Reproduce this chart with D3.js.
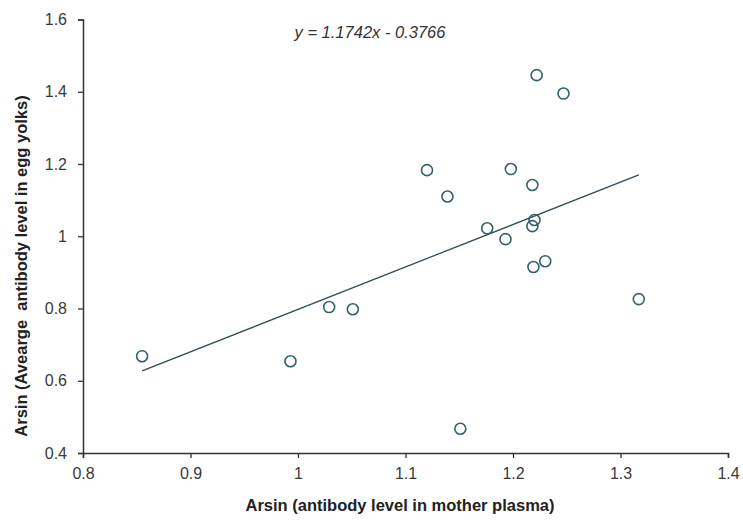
<!DOCTYPE html>
<html>
<head>
<meta charset="utf-8">
<script src="https://cdn.jsdelivr.net/npm/d3@7"></script>
<style>
  body { margin: 0; background: #fff; }
  text { font-family: "Liberation Sans", Arial, sans-serif; }
</style>
</head>
<body>
<div id="chart"></div>
<script>
// Data
const plasma = [0.855, 0.993, 1.029, 1.051, 1.151, 1.120, 1.139, 1.176, 1.193, 1.198, 1.218, 1.220, 1.218, 1.219, 1.230, 1.222, 1.247, 1.317];
const yolk   = [0.668, 0.654, 0.804, 0.798, 0.467, 1.183, 1.110, 1.022, 0.992, 1.186, 1.142, 1.045, 1.028, 0.915, 0.931, 1.446, 1.395, 0.826];
const slope = 1.1742;
const intercept = -0.3766;
const xTicks = [0.8, 0.9, 1.0, 1.1, 1.2, 1.3, 1.4];
const yTicks = [0.4, 0.6, 0.8, 1.0, 1.2, 1.4, 1.6];

const width = 743, height = 524;
const margin = { left: 83, right: 15, top: 19.5, bottom: 71 };

const svg = d3.select('#chart')
  .append('svg')
  .attr('width', width)
  .attr('height', height);

const x = d3.scaleLinear().domain([0.8, 1.4]).range([margin.left, width - margin.right]);
const y = d3.scaleLinear().domain([0.4, 1.6]).range([height - margin.bottom, margin.top]);

const fmt = d => (d === 1 ? '1' : d3.format('.1f')(d));

// Axes
const xAxis = svg.append('g')
  .attr('transform', `translate(0,${y(0.4)})`)
  .call(d3.axisBottom(x).tickValues(xTicks).tickFormat(fmt).tickSizeOuter(0).tickSize(5));

const yAxis = svg.append('g')
  .attr('transform', `translate(${x(0.8)},0)`)
  .call(d3.axisLeft(y).tickValues(yTicks).tickFormat(fmt).tickSizeOuter(0).tickSize(5));

[xAxis, yAxis].forEach(a => {
  a.select('.domain').attr('stroke', '#333').attr('stroke-width', 1.5);
  a.selectAll('.tick line').attr('stroke', '#333').attr('stroke-width', 1.3);
  a.selectAll('.tick text')
    .attr('font-size', '16px')
    .attr('fill', '#3a3a3a')
    .attr('font-family', '"Liberation Sans", Arial, sans-serif');
});
xAxis.selectAll('.tick text').attr('dy', '1.125em');
yAxis.selectAll('.tick text').attr('dx', '-0.5em');

// Regression line across the data range
const x0 = d3.min(plasma), x1 = d3.max(plasma);
svg.append('line')
  .attr('x1', x(x0))
  .attr('y1', y(slope * x0 + intercept))
  .attr('x2', x(x1))
  .attr('y2', y(slope * x1 + intercept))
  .attr('stroke', '#2e4c55')
  .attr('stroke-width', 1.3);

// Points
svg.append('g')
  .selectAll('circle')
  .data(plasma.map((v, i) => [v, yolk[i]]))
  .join('circle')
  .attr('cx', d => x(d[0]))
  .attr('cy', d => y(d[1]))
  .attr('r', 5.5)
  .attr('fill', 'none')
  .attr('stroke', '#35606d')
  .attr('stroke-width', 1.6);

// Equation
svg.append('text')
  .attr('x', 370)
  .attr('y', 38)
  .attr('text-anchor', 'middle')
  .attr('font-size', '16.5px')
  .attr('font-style', 'italic')
  .attr('fill', '#333')
  .text(`y = ${slope}x - ${Math.abs(intercept)}`);

// Axis titles
svg.append('text')
  .attr('x', 400)
  .attr('y', 511)
  .attr('text-anchor', 'middle')
  .attr('font-size', '16.5px')
  .attr('font-weight', 'bold')
  .attr('fill', '#222')
  .text('Arsin (antibody level in mother plasma)');

svg.append('text')
  .attr('transform', 'translate(27,266) rotate(-90)')
  .attr('text-anchor', 'middle')
  .attr('font-size', '16.5px')
  .attr('font-weight', 'bold')
  .attr('fill', '#222')
  .text('Arsin (Avearge  antibody level in egg yolks)')
  .attr('xml:space', 'preserve');
</script>
</body>
</html>
